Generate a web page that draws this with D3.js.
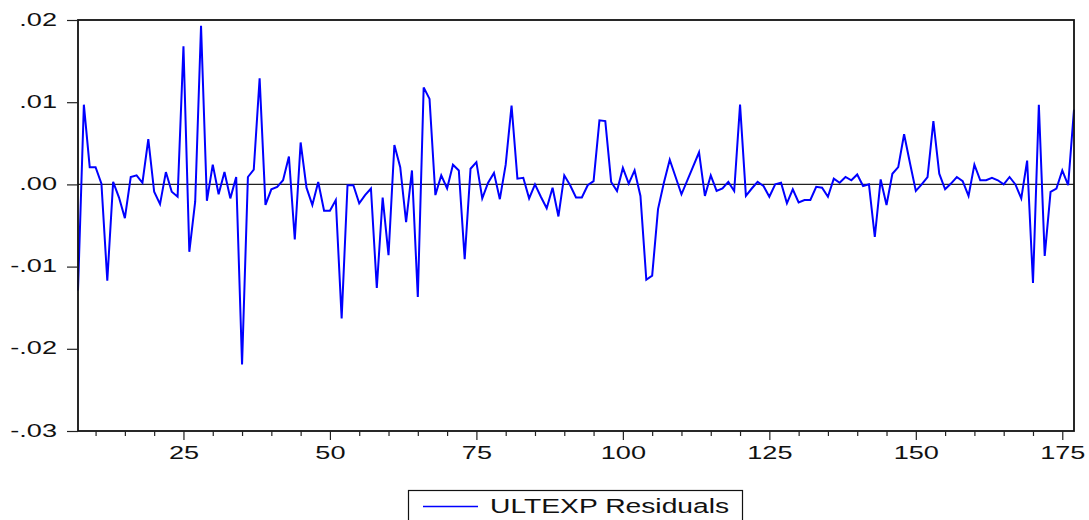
<!DOCTYPE html>
<html>
<head>
<meta charset="utf-8">
<script src="https://cdn.jsdelivr.net/npm/d3@7"></script>
<style>
  html, body { margin: 0; padding: 0; background: #fff; }
  svg { display: block; }
  text { font-family: "Liberation Sans", Arial, sans-serif; fill: #111; }
</style>
</head>
<body>
<svg id="chart" width="1089" height="520"></svg>
<script>
// Observation index of the first residual
const startObs = 7;

// ULTEXP residuals, observations 7..177
const residuals = [
  -0.0129, 0.0097, 0.0021, 0.0021, 0.0001, -0.0117, 0.0003, -0.0016, -0.0041, 0.0009,
  0.0011, 0.0002, 0.0055, -0.0009, -0.0024, 0.0015, -0.0009, -0.0015, 0.0168, -0.0082,
  -0.0021, 0.0193, -0.0020, 0.0024, -0.0012, 0.0015, -0.0017, 0.0009, -0.0219, 0.0009,
  0.0018, 0.0129, -0.0025, -0.0006, -0.0003, 0.0005, 0.0034, -0.0067, 0.0051, -0.0004,
  -0.0025, 0.0003, -0.0032, -0.0032, -0.0019, -0.0163, -0.0001, -0.0001, -0.0023, -0.0013,
  -0.0005, -0.0126, -0.0016, -0.0086, 0.0048, 0.0021, -0.0046, 0.0017, -0.0137, 0.0118,
  0.0104, -0.0013, 0.0011, -0.0005, 0.0024, 0.0017, -0.0091, 0.0019, 0.0027, -0.0017,
  0.0002, 0.0014, -0.0018, 0.0024, 0.0096, 0.0007, 0.0008, -0.0017, 0.0000, -0.0015,
  -0.0029, -0.0004, -0.0039, 0.0011, -0.0001, -0.0016, -0.0016, -0.0001, 0.0004, 0.0078,
  0.0077, 0.0003, -0.0008, 0.0020, 0.0001, 0.0017, -0.0014, -0.0116, -0.0111, -0.0030,
  0.0002, 0.0030, 0.0009, -0.0012, 0.0005, 0.0022, 0.0039, -0.0014, 0.0011, -0.0008,
  -0.0005, 0.0003, -0.0008, 0.0097, -0.0014, -0.0005, 0.0003, -0.0002, -0.0015, 0.0000,
  0.0002, -0.0023, -0.0006, -0.0022, -0.0019, -0.0019, -0.0003, -0.0004, -0.0015, 0.0007,
  0.0002, 0.0009, 0.0005, 0.0012, -0.0002, 0.0000, -0.0064, 0.0006, -0.0025, 0.0013,
  0.0021, 0.0061, 0.0026, -0.0008, 0.0000, 0.0009, 0.0077, 0.0013, -0.0006, 0.0001,
  0.0009, 0.0004, -0.0014, 0.0024, 0.0005, 0.0005, 0.0008, 0.0005, 0.0000, 0.0009,
  0.0000, -0.0017, 0.0029, -0.0120, 0.0097, -0.0087, -0.0009, -0.0005, 0.0017, -0.0001,
  0.0091
];

// Axis ticks and labels
const yTicks = [0.02, 0.01, 0.00, -0.01, -0.02, -0.03];
const yTickLabels = [".02", ".01", ".00", "-.01", "-.02", "-.03"];
const xTicks = [25, 50, 75, 100, 125, 150, 175];
const xMinorTicks = [10, 15, 20, 30, 35, 40, 45, 55, 60, 65, 70, 80, 85, 90, 95,
                     105, 110, 115, 120, 130, 135, 140, 145, 155, 160, 165, 170];
const seriesName = "ULTEXP Residuals";

const data = residuals.map((v, i) => ({ obs: startObs + i, value: v }));

const svg = d3.select("#chart");
const plot = { left: 78, right: 1074, top: 20, bottom: 431 };
const textStretch = 1.55;

const x = d3.scaleLinear()
  .domain([startObs, startObs + residuals.length - 1])
  .range([plot.left, plot.right]);
const y = d3.scaleLinear()
  .domain([-0.03, 0.02])
  .range([plot.bottom, plot.top]);

// Zero reference line
svg.append("line")
  .attr("x1", plot.left).attr("x2", plot.right)
  .attr("y1", y(0)).attr("y2", y(0))
  .attr("stroke", "#222").attr("stroke-width", 1.2);

// Residual series
const line = d3.line().x(d => x(d.obs)).y(d => y(d.value));
svg.append("path")
  .datum(data)
  .attr("d", line)
  .attr("fill", "none")
  .attr("stroke", "#0000ff")
  .attr("stroke-width", 2)
  .attr("stroke-linejoin", "miter");

// Plot frame
svg.append("rect")
  .attr("x", plot.left).attr("y", plot.top)
  .attr("width", plot.right - plot.left).attr("height", plot.bottom - plot.top)
  .attr("fill", "none").attr("stroke", "#111").attr("stroke-width", 1.8);

// Left axis
const yAxis = svg.append("g")
  .attr("transform", `translate(${plot.left},0)`)
  .call(d3.axisLeft(y).tickValues(yTicks).tickSize(11)
    .tickFormat((d, i) => yTickLabels[i]));
yAxis.select(".domain").remove();
yAxis.selectAll(".tick line").attr("stroke", "#222").attr("stroke-width", 1.2);
yAxis.selectAll(".tick text")
  .attr("x", null).attr("dy", null)
  .attr("text-anchor", "end")
  .attr("dominant-baseline", "central")
  .attr("font-size", 17.5)
  .attr("transform", `translate(-21,-1) scale(${textStretch},1)`);

// Bottom axis: minor ticks
const xMinor = svg.append("g")
  .attr("transform", `translate(0,${plot.bottom})`)
  .call(d3.axisBottom(x).tickValues(xMinorTicks).tickSize(5).tickFormat(""));
xMinor.select(".domain").remove();
xMinor.selectAll(".tick line").attr("stroke", "#222").attr("stroke-width", 1.2);

// Bottom axis: major ticks with labels
const xAxis = svg.append("g")
  .attr("transform", `translate(0,${plot.bottom})`)
  .call(d3.axisBottom(x).tickValues(xTicks).tickSize(9).tickFormat(d3.format("d")));
xAxis.select(".domain").remove();
xAxis.selectAll(".tick line").attr("stroke", "#222").attr("stroke-width", 1.2);
xAxis.selectAll(".tick text")
  .attr("y", null).attr("dy", null)
  .attr("text-anchor", "middle")
  .attr("font-size", 17.5)
  .attr("transform", `translate(0,28) scale(${textStretch},1)`);

// Legend
const legend = svg.append("g");
legend.append("rect")
  .attr("x", 408.5).attr("y", 490.5)
  .attr("width", 334).attr("height", 40)
  .attr("fill", "#fff").attr("stroke", "#111").attr("stroke-width", 1.2);
legend.append("line")
  .attr("x1", 423).attr("x2", 478)
  .attr("y1", 506.5).attr("y2", 506.5)
  .attr("stroke", "#0000ff").attr("stroke-width", 1.5);
legend.append("text")
  .attr("transform", `translate(490,513) scale(1.45,1)`)
  .attr("font-size", 19.5)
  .text(seriesName);
</script>
</body>
</html>
